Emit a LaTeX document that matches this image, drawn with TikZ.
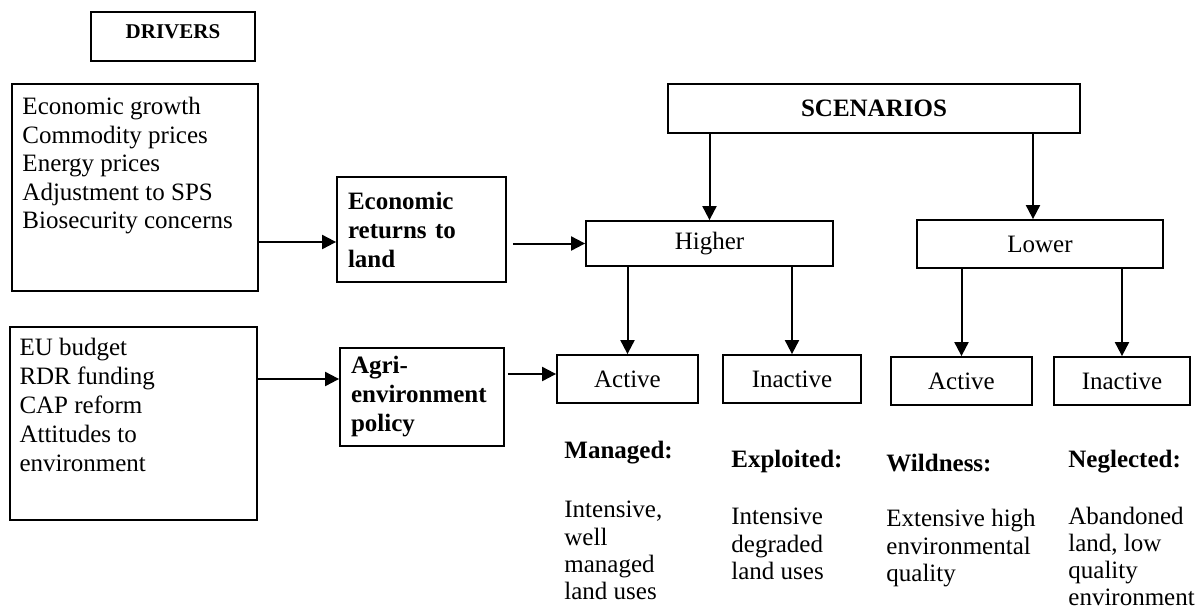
\documentclass[tikz,border=0pt]{standalone}
\usepackage{fontspec}
\setmainfont{Liberation Serif}
\usetikzlibrary{arrows, shapes, positioning, arrows.meta}

\tikzset{
	box/.style={draw, rectangle, line width=0.9pt, inner sep=0pt},
	leaf/.style={box, minimum height=24pt},
	plain/.style={font=\fontsize{12.5}{14.2}\selectfont},
	bold/.style={font=\fontsize{12.5}{14.5}\selectfont\bfseries},
	txt/.style={inner sep=0pt, align=left, anchor=north west},
	arr/.style={-{Triangle[length=7pt,width=7pt]}, line width=1pt},
}

\begin{document}
\begin{tikzpicture}[x=0.5pt, y=-0.5pt, plain]
			\useasboundingbox (0,0) rectangle (1196,611);
			\node (drivers)[box, minimum width=82pt, minimum height=24.5pt, text depth=5pt, font=\fontsize{10.5}{12}\selectfont\bfseries] at (173,36.5) {DRIVERS};
			\node (drv1)[box, minimum width=123pt, minimum height=103.5pt] at (135,187.5) {};
			\node (drv1txt)[txt, plain] at ([xshift=5.5pt,yshift=-7pt]drv1.north west) {Economic growth\\Commodity prices\\Energy prices\\Adjustment to SPS\\Biosecurity concerns};
			\node (eu)[box, minimum width=123.5pt, minimum height=96.5pt] at (133.5,423.5) {};
			\node (eutxt)[txt, font=\fontsize{12.5}{14.5}\selectfont] at ([xshift=5pt,yshift=-6pt]eu.north west) {EU budget\\RDR funding\\CAP reform\\Attitudes to\\environment};
			\node (econ)[box, bold, minimum width=84.5pt, minimum height=52.5pt, text width=73.5pt, inner xsep=5.5pt, align=left] at (421.5,229.5) {Economic\\returns to\\land};
			\node (agri)[box, bold, minimum width=82pt, minimum height=49pt, text width=71pt, inner xsep=5.5pt, align=left] at (422,397) {Agri-\\environment\\policy};
			\node (scen)[box, bold, minimum width=206pt, minimum height=24.5pt] at (874,108.5) {SCENARIOS};
			\node (higher)[box, minimum width=123.5pt, minimum height=22.5pt] at (709.5,243.5) {Higher};
			\node (lower)[box, minimum width=123pt, minimum height=24pt] at (1040,244) {Lower};
			\node (act1)[leaf, minimum width=70.5pt] at (627.5,379) {Active};
			\node (inact1)[leaf, minimum width=69pt] at (792,379) {Inactive};
			\node (act2)[leaf, minimum width=70.5pt] at (961.5,381) {Active};
			\node (inact2)[leaf, minimum width=68pt] at (1122,381) {Inactive};
			\node (managed)[bold, anchor=west, inner sep=0pt] at (564,453) {Managed:};
			\node (exploited)[bold, anchor=west, inner sep=0pt] at (731,461) {Exploited:};
			\node (wildness)[bold, anchor=west, inner sep=0pt] at (886,463) {Wildness:};
			\node (neglected)[bold, anchor=west, inner sep=0pt] at (1068,462) {Neglected:};
			\node (managedtxt)[txt, font=\fontsize{12.5}{13.6}\selectfont] at (564,501) {Intensive,\\well\\managed\\land uses};
			\node (exploitedtxt)[txt, font=\fontsize{12.5}{13.75}\selectfont] at (731,508) {Intensive\\degraded\\land uses};
			\node (wildnesstxt)[txt, font=\fontsize{12.5}{13.75}\selectfont] at (886,509) {Extensive high\\environmental\\quality};
			\node (neglectedtxt)[txt, font=\fontsize{12.5}{13.4}\selectfont] at (1068,507) {Abandoned\\land, low\\quality\\environment};
			\coordinate (econin) at ([yshift=-6.25pt]econ.west);
			\coordinate (agriin) at ([yshift=9pt]agri.west);
			\coordinate (act1in) at ([yshift=2.5pt]act1.west);
			\coordinate (lowerin) at ([xshift=-3.5pt]lower.north);
			\draw[arr] (econin -| drv1.east) -- (econin);
			\draw[arr] (agriin -| eu.east) -- (agriin);
			\draw[arr, shorten <=3pt] (econ.east |- higher.west) -- (higher.west);
			\draw[arr, shorten <=1.5pt] (act1in -| agri.east) -- (act1in);
			\draw[arr] (scen.south -| higher.north) -- (higher.north);
			\draw[arr] (scen.south -| lowerin) -- (lowerin);
			\draw[arr] (higher.south -| act1.north) -- (act1.north);
			\draw[arr] (higher.south -| inact1.north) -- (inact1.north);
			\draw[arr] (lower.south -| act2.north) -- (act2.north);
			\draw[arr] (lower.south -| inact2.north) -- (inact2.north);
		\end{tikzpicture}
\end{document}
